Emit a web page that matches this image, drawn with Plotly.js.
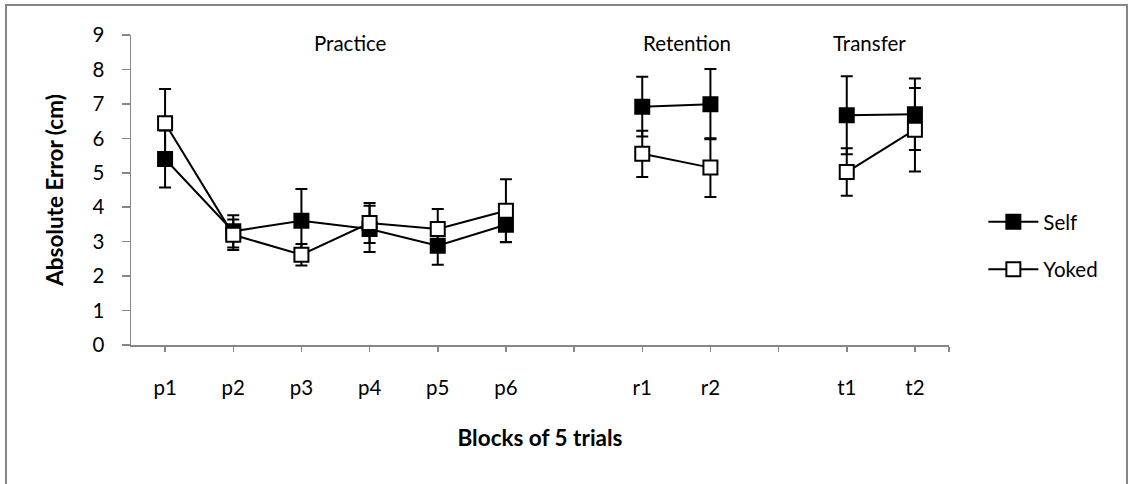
<!DOCTYPE html>
<html><head><meta charset="utf-8">
<script src="https://cdn.plot.ly/plotly-3.0.1.min.js"></script>
<style>body{margin:0;background:#fff}#chart{width:1133px;height:484px}</style>
</head><body><div id="chart"></div>
<script>
const blocks = ['p1','p2','p3','p4','p5','p6','','r1','r2','','t1','t2'];
const selfMean = [5.40,3.30,3.61,3.37,2.88,3.49,null,6.92,6.99,null,6.67,6.70];
const selfErr  = [0.83,0.47,0.92,0.67,0.55,0.51,null,0.87,1.02,null,1.13,1.04];
const yokedMean = [6.44,3.20,2.62,3.54,3.37,3.90,null,5.55,5.15,null,5.02,6.25];
const yokedErr  = [0.99,0.44,0.31,0.58,0.58,0.91,null,0.67,0.85,null,0.69,1.21];
const phases = ['Practice','Retention','Transfer'];
const phasePos = [2.72, 7.66, 10.33];
const yTicks = [0,1,2,3,4,5,6,7,8,9];

const FONT = 'Lato, "Open Sans", sans-serif';
const GRAY = '#868686';
const FS = 20.5;
const TFS = 22.5;
const xs = blocks.map((_, i) => i);

function trace(name, y, err, fill, group){
  return {
    type:'scatter', mode:'lines+markers', name:name, x:xs, y:y,
    legendgroup: group, connectgaps:false,
    line:{color:'#000', width:2},
    marker:{symbol:'square', size:14, color:fill, line:{color:'#000', width:2}},
    error_y:{type:'data', array:err, visible:true, color:'#000', thickness:2, width:6}
  };
}

const data = [
  trace('Self', selfMean, selfErr, '#000', 'g1'),
  trace('Yoked', yokedMean, yokedErr, '#fff', 'g2')
];

const layout = {
  width:1133, height:484,
  margin:{l:131, r:184, t:35, b:139},
  paper_bgcolor:'#fff', plot_bgcolor:'#fff',
  font:{family:FONT, size:FS, color:'#000'},
  showlegend:true,
  legend:{x:1.042, xanchor:'left', y:0.32, yanchor:'middle', traceorder:'grouped',
          tracegroupgap:18, itemwidth:50, font:{family:FONT, size:FS, color:'#000'}},
  xaxis:{
    range:[-0.5, 11.5], tickmode:'array',
    tickvals: xs.concat([11.5]), ticktext: blocks.concat(['']),
    ticks:'outside', ticklen:5, tickcolor:GRAY, tickwidth:1.5,
    showline:true, linecolor:GRAY, linewidth:1.5,
    showgrid:false, zeroline:false, ticklabelstandoff:19,
    tickfont:{family:FONT, size:FS, color:'#000'},
    title:{text:'<b>Blocks of 5 trials</b>', font:{family:FONT, size:TFS, color:'#000'}, standoff:32}
  },
  yaxis:{
    range:[0, 9], tickmode:'array', tickvals:yTicks, ticktext:yTicks.map(String),
    ticks:'outside', ticklen:8, tickcolor:GRAY, tickwidth:1.5,
    showline:true, linecolor:GRAY, linewidth:1.5,
    showgrid:false, zeroline:false, ticklabelstandoff:13,
    tickfont:{family:FONT, size:FS, color:'#000'},
    title:{text:'<b>Absolute Error (cm)</b>', font:{family:FONT, size:TFS, color:'#000'}, standoff:22}
  },
  annotations: phases.map((p, i) => ({
    text:p, x:phasePos[i], y:8.77, xref:'x', yref:'y', showarrow:false,
    xanchor:'center', yanchor:'middle', font:{family:FONT, size:FS, color:'#000'}
  })),
  shapes:[{
    type:'rect', xref:'paper', yref:'paper',
    x0:(6-131)/818, x1:(1127-131)/818, y0:(345.5-492)/310.5, y1:(345.5-5)/310.5,
    line:{color:GRAY, width:2}, fillcolor:'rgba(0,0,0,0)', layer:'below'
  }]
};

Plotly.newPlot('chart', data, layout, {displayModeBar:false, staticPlot:true});
</script>
</body></html>
